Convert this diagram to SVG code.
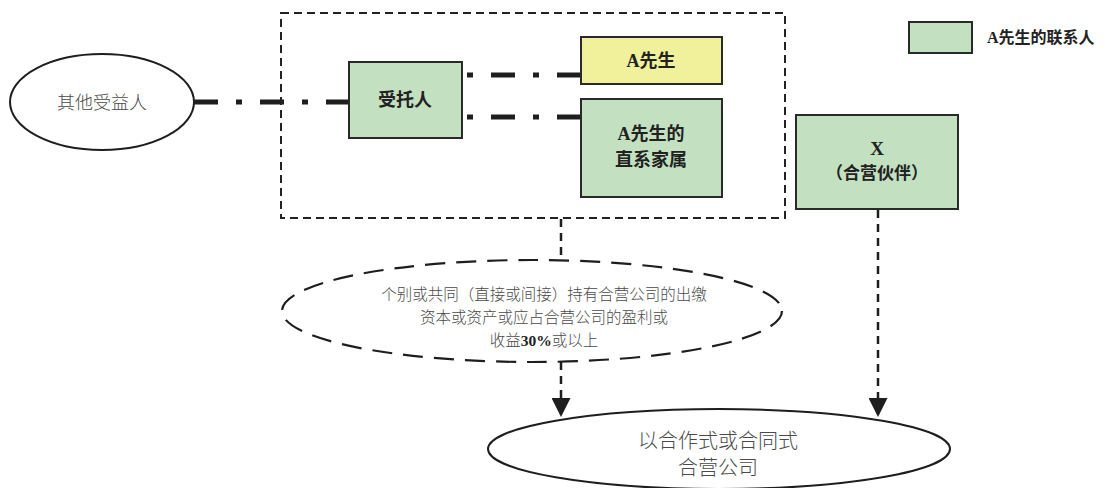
<svg xmlns="http://www.w3.org/2000/svg" width="1110" height="488" viewBox="0 0 1110 488">
<defs>
<style>
.box{stroke:#2a2a2a;stroke-width:2}
.green{fill:#c3e1c1}
.yellow{fill:#f1f09b}
.bt{font-family:"Liberation Serif","Noto Sans CJK SC",serif;font-weight:bold;fill:#222;text-anchor:middle}
.gt{font-family:"Noto Sans CJK SC","Noto Sans",sans-serif;font-weight:300;fill:#4a4a4a;text-anchor:middle}
.dd{stroke:#1e1e1e;stroke-width:5;fill:none;stroke-dasharray:24 18 6 18}
.vd{stroke:#1e1e1e;stroke-width:2.5;fill:none;stroke-dasharray:8 6}
</style>
<marker id="arr" markerUnits="userSpaceOnUse" markerWidth="20" markerHeight="19" refX="19" refY="9.5" orient="auto">
<path d="M0,0 L19,9.5 L0,19 Z" fill="#1e1e1e"/>
</marker>
</defs>
<g id="connectors">
<line class="dd" x1="194" y1="102" x2="349" y2="102"/>
<line class="dd" x1="581" y1="75" x2="462" y2="75"/>
<line class="dd" x1="581" y1="117" x2="462" y2="117"/>
<line class="vd" x1="561" y1="219" x2="561" y2="259"/>
<line class="vd" x1="561" y1="362" x2="561" y2="417" marker-end="url(#arr)"/>
<line class="vd" x1="878" y1="210" x2="878" y2="417" marker-end="url(#arr)"/>
</g>
<g id="group-box">
<rect x="281" y="13" width="504" height="205" fill="none" stroke="#222" stroke-width="2" stroke-dasharray="8 5"/>
</g>
<g id="other-beneficiaries">
<ellipse cx="102" cy="102" rx="92" ry="48" fill="#fff" stroke="#1e1e1e" stroke-width="2"/>
<text class="gt" x="102" y="109" font-size="18">其他受益人</text>
</g>
<g id="trustee">
<rect class="box green" x="349" y="62" width="113" height="76"/>
<text class="bt" x="405" y="106" font-size="18">受托人</text>
</g>
<g id="mr-a">
<rect class="box yellow" x="581" y="37" width="141" height="47"/>
<text class="bt" x="651" y="67" font-size="18">A先生</text>
</g>
<g id="family">
<rect class="box green" x="581" y="99" width="141" height="98"/>
<text class="bt" x="651" y="140" font-size="18">A先生的</text>
<text class="bt" x="651" y="166" font-size="18">直系家属</text>
</g>
<g id="partner-x">
<rect class="box green" x="796" y="115" width="162" height="94"/>
<text class="bt" x="877" y="155" font-size="19">X</text>
<text class="bt" x="877" y="179" font-size="17">（合营伙伴）</text>
</g>
<g id="legend">
<rect class="box green" x="909" y="22" width="63" height="31"/>
<text class="bt" x="987" y="43" font-size="16" style="text-anchor:start">A先生的联系人</text>
</g>
<g id="holding">
<ellipse cx="532" cy="311" rx="250" ry="51" fill="none" stroke="#1e1e1e" stroke-width="2.2" stroke-dasharray="20 11"/>
<text class="gt" x="544" y="300" font-size="15.5">个别或共同（直接或间接）持有合营公司的出缴</text>
<text class="gt" x="544" y="323" font-size="15.5">资本或资产或应占合营公司的盈利或</text>
<text class="gt" x="544" y="346" font-size="15.5">收益<tspan font-family="Liberation Serif" font-weight="bold" fill="#222">30%</tspan>或以上</text>
</g>
<g id="jv-company">
<ellipse cx="719" cy="449" rx="231" ry="40" fill="#fff" stroke="#1e1e1e" stroke-width="2"/>
<text class="gt" x="718" y="448" font-size="20">以合作式或合同式</text>
<text class="gt" x="718" y="475" font-size="20">合营公司</text>
</g>
</svg>
